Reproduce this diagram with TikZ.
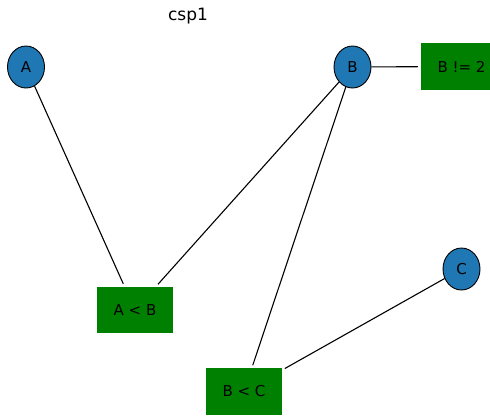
\documentclass[tikz,border=0pt]{standalone}
\usepackage{fontspec}
\setmainfont{DejaVu Sans}
\usetikzlibrary{shapes.geometric}
\definecolor{varblue}{HTML}{1F77B4}
\definecolor{consgreen}{HTML}{008000}
\tikzset{
  var/.style={ellipse, draw=black, line width=0.9pt, fill=varblue, minimum width=37pt, minimum height=42pt, inner sep=0pt, font=\fontsize{15}{17}\selectfont},
  cons/.style={rectangle, fill=consgreen, minimum width=76pt, minimum height=46.5pt, inner sep=0pt, font=\fontsize{15}{17}\selectfont},
  edge/.style={line width=1.1pt, shorten >=3pt}
}
\begin{document}
\begin{tikzpicture}[x=1pt, y=-1pt]
\clip (0,0) rectangle (490,416);
\fill[white] (0,0) rectangle (490,416);
\node[font=\fontsize{17}{19}\selectfont] (title) at (188,16) {csp1};
\node[var] (A) at (26,67) {A};
\node[var] (B) at (352.5,67) {B};
\node[var] (C) at (461.5,269) {C};
\node[cons] (AB) at (135,310) {A < B};
\node[cons] (BC) at (244,391.5) {B < C};
\node[cons] (Bn2) at (459,66.5) {\hspace{5pt}B != 2};
\draw[edge] (A) -- (AB);
\draw[edge] (B) -- (AB);
\draw[edge] (B) -- (BC);
\draw[edge] (C) -- (BC);
\draw[edge] (B) -- (Bn2);
\end{tikzpicture}
\end{document}
